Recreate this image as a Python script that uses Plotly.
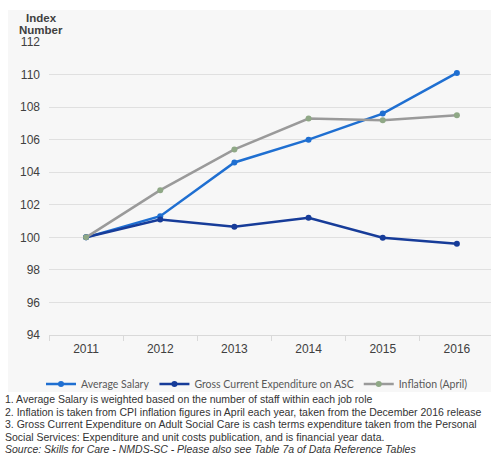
import plotly.graph_objects as go

years = ["2011", "2012", "2013", "2014", "2015", "2016"]
avg_salary = [100.0, 101.3, 104.6, 106.0, 107.6, 110.1]
gross_exp = [100.0, 101.1, 100.65, 101.2, 99.97, 99.6]
inflation = [100.0, 102.9, 105.4, 107.3, 107.2, 107.5]

series_names = ["Average Salary", "Gross Current Expenditure on ASC", "Inflation (April)"]
y_ticks = [94, 96, 98, 100, 102, 104, 106, 108, 110, 112]

notes = [
    "1. Average Salary is weighted based on the number of staff within each job role",
    "2. Inflation is taken from CPI inflation figures in April each year, taken from the December 2016 release",
    "3. Gross Current Expenditure on Adult Social Care is cash terms expenditure taken from the Personal",
    "Social Services: Expenditure and unit costs publication, and is financial year data.",
    "<i>Source: Skills for Care - NMDS-SC - Please also see Table 7a of Data Reference Tables</i>",
]

W, H = 491, 455
L, R, T, B = 49, 0, 42, 120
pw = W - L - R
ph = H - T - B

fig = go.Figure()
fig.add_trace(go.Scatter(x=years, y=avg_salary, name=series_names[0], mode="lines+markers",
                         line=dict(color="#1f6fd1", width=2.5), marker=dict(color="#1f6fd1", size=6)))
fig.add_trace(go.Scatter(x=years, y=gross_exp, name=series_names[1], mode="lines+markers",
                         line=dict(color="#173c99", width=2.5), marker=dict(color="#173c99", size=6)))
fig.add_trace(go.Scatter(x=years, y=inflation, name=series_names[2], mode="lines+markers",
                         line=dict(color="#9a9a9a", width=2.5), marker=dict(color="#8fa886", size=6)))

# gray chart background
fig.add_shape(type="rect", xref="paper", yref="paper", layer="below",
              x0=(8 - L) / pw, x1=(W - L) / pw, y0=-(392 - T - ph) / ph, y1=1 + (T - 10) / ph,
              fillcolor="#f7f7f7", line=dict(width=0))

for txt, yc in (("<b>Index</b>", 18), ("<b>Number</b>", 30.5)):
    fig.add_annotation(text=txt, xref="paper", yref="paper",
                       x=(41 - L) / pw, y=1 + (T - yc) / ph, xanchor="center", yanchor="middle",
                       showarrow=False, align="center",
                       font=dict(family="Liberation Sans, Arial", size=11.5, color="#404040"))

for i, t in enumerate(notes):
    yc = 399 + i * 12.5
    fig.add_annotation(text=t, xref="paper", yref="paper",
                       x=(3 - L) / pw, y=-(yc - T - ph) / ph, xanchor="left", yanchor="middle",
                       showarrow=False, align="left",
                       font=dict(family="Liberation Sans, Arial", size=10.5, color="#333333"))

fig.update_layout(
    width=W, height=H,
    margin=dict(l=L, r=R, t=T, b=B, autoexpand=False),
    paper_bgcolor="white",
    plot_bgcolor="rgba(0,0,0,0)",
    showlegend=True,
    legend=dict(orientation="h", x=(257 - L) / pw, xanchor="center",
                y=-(384 - T - ph) / ph, yanchor="middle",
                font=dict(family="Lato, Open Sans", size=10.5, color="#595959"),
                bgcolor="rgba(0,0,0,0)", itemwidth=30, tracegroupgap=0),
    xaxis=dict(type="category", range=[-0.5, 5.46], showgrid=False,
               showline=True, linecolor="#d9d9d9", linewidth=1,
               ticks="outside", tickson="boundaries", ticklen=5, tickcolor="#d9d9d9",
               tickfont=dict(family="Liberation Sans, Arial", size=12, color="#404040"),
               ticklabelstandoff=3, fixedrange=True),
    yaxis=dict(range=[94, 112], tickvals=y_ticks, showgrid=True, gridcolor="#e0e0e0",
               gridwidth=1, zeroline=False, showline=False, ticks="",
               tickfont=dict(family="Liberation Sans, Arial", size=12, color="#404040"),
               ticklabelstandoff=8, fixedrange=True),
)

fig.write_html("out.html", config={"displayModeBar": False},
               post_script="document.body.style.margin='0';document.body.style.overflow='hidden';")
